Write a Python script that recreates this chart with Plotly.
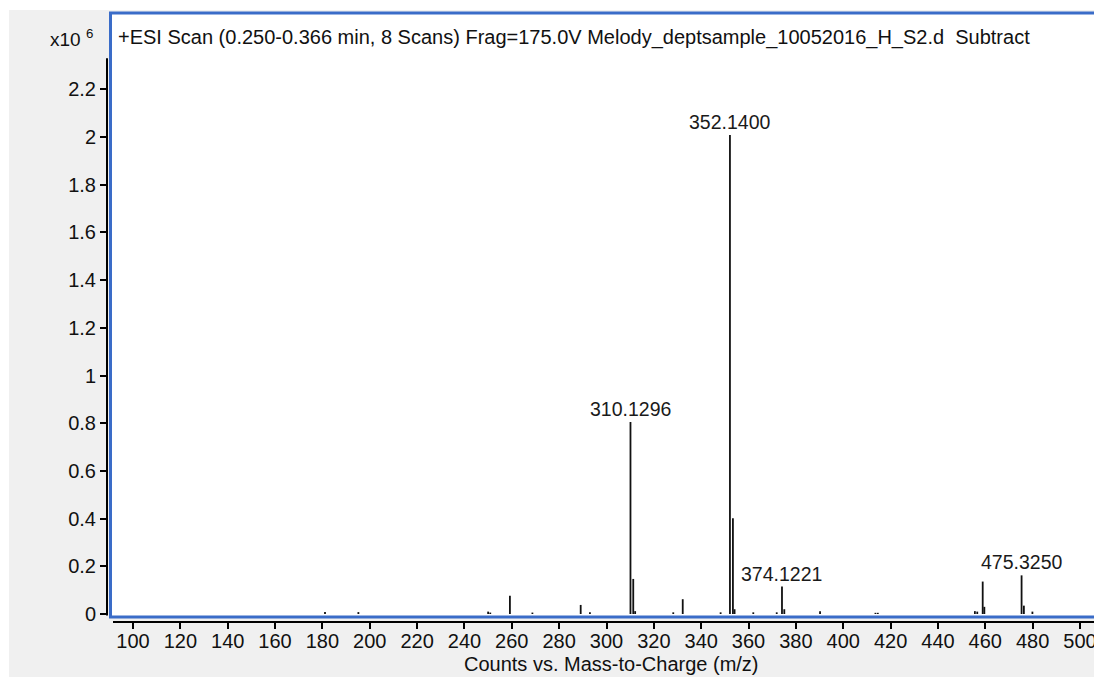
import plotly.graph_objects as go

# m/z values and intensities (x10^6 counts)
mz = [181.1, 195.2, 250.0, 250.9, 259.2, 268.7, 289.1, 293.0, 310.1296, 311.3,
      312.1, 328.2, 332.2, 348.2, 352.1400, 353.4, 354.1, 362.0, 371.9, 374.1221,
      375.1, 390.2, 413.6, 414.6, 455.6, 456.6, 458.9, 459.6, 475.3250, 476.3, 479.9]
intensity = [0.008, 0.008, 0.010, 0.006, 0.077, 0.006, 0.038, 0.007, 0.805, 0.147,
             0.012, 0.007, 0.062, 0.007, 2.008, 0.401, 0.020, 0.007, 0.007, 0.115,
             0.020, 0.012, 0.005, 0.005, 0.012, 0.010, 0.136, 0.030, 0.162, 0.035, 0.010]

labeled_mz = [310.1296, 352.1400, 374.1221, 475.3250]
labeled_int = [0.805, 2.008, 0.115, 0.162]
label_text = ["310.1296", "352.1400", "374.1221", "475.3250"]

x_ticks = list(range(100, 520, 20))
y_tickvals = [0, 0.2, 0.4, 0.6, 0.8, 1.0, 1.2, 1.4, 1.6, 1.8, 2.0, 2.2]
y_ticktext = ["0", "0.2", "0.4", "0.6", "0.8", "1", "1.2", "1.4", "1.6", "1.8", "2", "2.2"]

title_text = "+ESI Scan (0.250-0.366 min, 8 Scans) Frag=175.0V Melody_deptsample_10052016_H_S2.d  Subtract"
x_title = "Counts vs. Mass-to-Charge (m/z)"

FONT = "Liberation Sans, Arial, sans-serif"
OFF = 8  # page body margin
W, H = 1102 - OFF, 677 - OFF
ML, MR, MT, MB = 107 - OFF, 0, 12 - OFF, 677 - 622
PW = W - ML - MR
PH = H - MT - MB


def px(xp):
    """page x pixel -> paper coordinate"""
    return (xp - OFF - ML) / PW


def py(yp):
    """page y pixel -> paper coordinate"""
    return (H - MB - (yp - OFF)) / PH


xs, ys = [], []
for m, v in zip(mz, intensity):
    xs += [m, m, None]
    ys += [0, v, None]

fig = go.Figure()
fig.add_trace(go.Scatter(x=xs, y=ys, mode="lines",
                         line=dict(color="#111111", width=1.8),
                         hoverinfo="skip", showlegend=False))

for m, v, t in zip(labeled_mz, labeled_int, label_text):
    fig.add_annotation(x=m, y=v, xref="x", yref="y", text=t, showarrow=False,
                       xanchor="center", yanchor="bottom", yshift=0,
                       font=dict(family=FONT, size=19.5, color="#1a1a1a"))

# background gray panel and white plot box with blue frame
fig.add_shape(type="rect", xref="paper", yref="paper",
              x0=px(9), x1=px(1110), y0=py(690), y1=py(10),
              fillcolor="#f0f0f0", line=dict(width=0), layer="below")
fig.add_shape(type="rect", xref="paper", yref="paper",
              x0=px(110.5), x1=px(1100), y0=py(617), y1=py(13),
              fillcolor="white", line=dict(color="#3a6cc8", width=3), layer="below")
# axis lines
fig.add_shape(type="line", xref="paper", yref="y",
              x0=0, x1=0, y0=-0.006, y1=2.33,
              line=dict(color="black", width=2))
fig.add_shape(type="line", xref="paper", yref="paper",
              x0=px(113), x1=1, y0=0, y1=0,
              line=dict(color="black", width=2))

fig.add_annotation(x=px(116), y=py(37), xref="paper", yref="paper", text=title_text,
                   showarrow=False, xanchor="left", yanchor="middle",
                   font=dict(family=FONT, size=20, color="#111111"))
fig.add_annotation(x=px(95), y=py(38), xref="paper", yref="paper",
                   text="x10 <sup>6</sup>", showarrow=False,
                   xanchor="right", yanchor="middle",
                   font=dict(family=FONT, size=19, color="#111111"))
fig.add_annotation(x=px(611), y=py(664), xref="paper", yref="paper", text=x_title,
                   showarrow=False, xanchor="center", yanchor="middle",
                   font=dict(family=FONT, size=20, color="#111111"))

x0v = 100 - (133 - 107) / 2.3675
x1v = 100 + (1102 - 133) / 2.3675
y0v = -(622 - 614) / 238.5
y1v = (614 - 12) / 238.5

fig.update_xaxes(range=[x0v, x1v], tickvals=x_ticks, ticks="outside", ticklen=6,
                 tickcolor="black", tickwidth=1.5, showline=False, showgrid=False,
                 zeroline=False, ticklabelstandoff=-5,
                 tickfont=dict(family=FONT, size=20, color="#111111"))
fig.update_yaxes(range=[y0v, y1v], tickvals=y_tickvals, ticktext=y_ticktext,
                 ticks="outside", ticklen=6, tickcolor="black", tickwidth=1.5,
                 showline=False, showgrid=False, zeroline=False,
                 tickfont=dict(family=FONT, size=20, color="#111111"))

fig.update_layout(width=W, height=H, margin=dict(l=ML, r=MR, t=MT, b=MB),
                  paper_bgcolor="white", plot_bgcolor="rgba(0,0,0,0)",
                  showlegend=False)

fig.write_html("out.html")
